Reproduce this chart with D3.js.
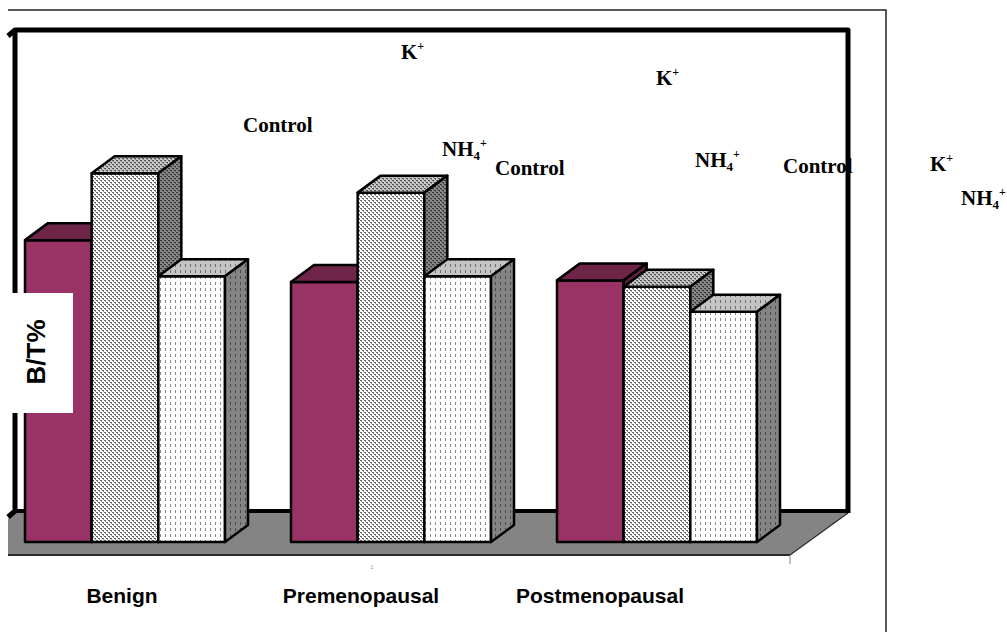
<!DOCTYPE html>
<html>
<head>
<meta charset="utf-8">
<script src="https://cdn.jsdelivr.net/npm/d3@7"></script>
<style>
  body { margin: 0; background: #fff; }
  svg { display: block; }
</style>
</head>
<body>
<svg id="chart" width="1007" height="632"></svg>
<script>
// ---- data -------------------------------------------------------------
const categories = ["Benign", "Premenopausal", "Postmenopausal"];
const seriesNames = ["Control", "K+", "NH4+"];
const controlValues = [37.5, 32.3, 32.5];
const potassiumValues = [45.8, 43.4, 31.7];
const ammoniumValues = [33.0, 33.0, 28.6];
const axisMax = 60;
const yTitle = "B/T%";

// ---- layout -----------------------------------------------------------
const svg = d3.select("#chart");
const DX = 23, DY = 17;            // 3D depth of each column
const baseY = 542;                 // front bottom of the columns
const wallShift = 29;              // columns stand this far in front of the back wall

const x0 = d3.scaleBand().domain(categories).range([25, 757])
  .paddingInner(66 / 266).paddingOuter(0);
const x1 = d3.scaleBand().domain(seriesNames).range([0, x0.bandwidth()]).padding(0);
const y = d3.scaleLinear().domain([0, axisMax]).range([baseY, baseY - 483]);

const series = [
  { name: "Control", values: controlValues, front: "#993366", top: "#6e2547", side: "#5c1f3d" },
  { name: "K+", values: potassiumValues, front: "url(#confFront)", top: "url(#confTop)", side: "url(#confSide)" },
  { name: "NH4+", values: ammoniumValues, front: "url(#dashFront)", top: "url(#dashTop)", side: "url(#dashSide)" }
];

// ---- fill patterns ----------------------------------------------------
const defs = svg.append("defs");
function confetti(id, bg, ink, ink2) {
  const p = defs.append("pattern").attr("id", id).attr("patternUnits", "userSpaceOnUse")
    .attr("width", 4).attr("height", 4);
  p.append("rect").attr("width", 4).attr("height", 4).attr("fill", bg);
  [[0, 0, 2, 1], [2, 2, 2, 1]].forEach(r =>
    p.append("rect").attr("x", r[0]).attr("y", r[1]).attr("width", r[2]).attr("height", r[3]).attr("fill", ink));
  [[1, 1, 1, 1], [3, 3, 1, 1]].forEach(r =>
    p.append("rect").attr("x", r[0]).attr("y", r[1]).attr("width", r[2]).attr("height", r[3]).attr("fill", ink2));
}
function dashes(id, bg, ink) {
  const p = defs.append("pattern").attr("id", id).attr("patternUnits", "userSpaceOnUse")
    .attr("width", 5).attr("height", 6);
  p.append("rect").attr("width", 5).attr("height", 6).attr("fill", bg);
  p.append("rect").attr("x", 0).attr("y", 0).attr("width", 1).attr("height", 3).attr("fill", ink);
}
confetti("confFront", "#ffffff", "#606060", "#9a9a9a");
confetti("confTop", "#c8c8c8", "#555555", "#858585");
confetti("confSide", "#888888", "#383838", "#5e5e5e");
dashes("dashFront", "#ffffff", "#888888");
dashes("dashTop", "#c4c4c4", "#707070");
dashes("dashSide", "#848484", "#4a4a4a");

// ---- outer frame --------------------------------------------------------
svg.append("path").attr("d", "M8,10 L886,10 L886,632")
  .attr("fill", "none").attr("stroke", "#222").attr("stroke-width", 1.5);

// ---- floor and back wall -------------------------------------------------
const wallTop = y(axisMax) - wallShift;
const floorBack = baseY - wallShift;
const floorFront = baseY + 13;
const wallLeft = 15, wallRight = 848;
const floorFrontRight = wallRight - 58;

svg.append("polygon")
  .attr("points", [[8, floorBack + 6], [wallLeft, floorBack], [wallRight, floorBack],
                   [floorFrontRight, floorFront], [8, floorFront]].join(" "))
  .attr("fill", "#848484").attr("stroke", "none");
svg.append("line").attr("x1", 8).attr("x2", floorFrontRight).attr("y1", floorFront).attr("y2", floorFront)
  .attr("stroke", "#2a2a2a").attr("stroke-width", 2);
svg.append("line").attr("x1", wallRight).attr("y1", floorBack).attr("x2", floorFrontRight).attr("y2", floorFront)
  .attr("stroke", "#2a2a2a").attr("stroke-width", 1.2);

svg.append("path")
  .attr("d", `M8,${wallTop + 6} L${wallLeft},${wallTop} L${wallRight},${wallTop} L${wallRight},${floorBack}`)
  .attr("fill", "none").attr("stroke", "#000").attr("stroke-width", 5).attr("stroke-linejoin", "round");
svg.append("path")
  .attr("d", `M${wallLeft},${wallTop} L${wallLeft},${floorBack - 2} L8,${floorBack + 4}`)
  .attr("fill", "none").attr("stroke", "#000").attr("stroke-width", 5);
svg.append("line").attr("x1", wallLeft).attr("x2", wallRight).attr("y1", floorBack - 2).attr("y2", floorBack - 2)
  .attr("stroke", "#000").attr("stroke-width", 4);

// ---- 3D columns --------------------------------------------------------------
const barsG = svg.append("g").attr("stroke", "#000").attr("stroke-width", 2.5).attr("stroke-linejoin", "round");
categories.forEach((cat, ci) => {
  series.forEach(s => {
    const bx = x0(cat) + x1(s.name);
    const w = x1.bandwidth();
    const yt = y(s.values[ci]);
    const yb = y(0);
    const g = barsG.append("g");
    g.append("rect").attr("x", bx).attr("y", yt).attr("width", w).attr("height", yb - yt).attr("fill", s.front);
    g.append("polygon")
      .attr("points", [[bx, yt], [bx + w, yt], [bx + w + DX, yt - DY], [bx + DX, yt - DY]].join(" "))
      .attr("fill", s.top);
    g.append("polygon")
      .attr("points", [[bx + w, yt], [bx + w + DX, yt - DY], [bx + w + DX, yb - DY], [bx + w, yb]].join(" "))
      .attr("fill", s.side);
  });
});

// ---- tick marks under the floor ------------------------------------------------
svg.append("line").attr("x1", floorFrontRight).attr("x2", floorFrontRight)
  .attr("y1", floorFront).attr("y2", floorFront + 9).attr("stroke", "#888").attr("stroke-width", 1);
svg.append("text").attr("x", 372).attr("y", 569).attr("font-size", 6).attr("fill", "#999")
  .attr("font-family", "Liberation Sans, Arial, sans-serif").attr("text-anchor", "middle").text("1");

// ---- category labels -------------------------------------------------------------
svg.append("g").selectAll("text").data(categories).join("text")
  .attr("x", (d, i) => x0(d) + x0.bandwidth() / 2 - 3 - 27 * i)
  .attr("y", 603)
  .attr("text-anchor", "middle")
  .attr("font-family", "Liberation Sans, Arial, sans-serif")
  .attr("font-weight", "bold").attr("font-size", 21)
  .attr("fill", "#000")
  .text(d => d);

// ---- y-axis title -----------------------------------------------------------------
svg.append("rect").attr("x", 0).attr("y", 293).attr("width", 73).attr("height", 120).attr("fill", "#fff");
svg.append("text")
  .attr("transform", "translate(45,352) rotate(-90)")
  .attr("text-anchor", "middle")
  .attr("font-family", "Liberation Sans, Arial, sans-serif")
  .attr("font-weight", "bold").attr("font-size", 26)
  .text(yTitle);

// ---- series labels (three copies, scattered over the plot) -------------------------
const labelSpots = [
  [{ x: 243, y: 132 }, { x: 401, y: 59 }, { x: 442, y: 156 }],
  [{ x: 495, y: 175 }, { x: 656, y: 85 }, { x: 695, y: 167 }],
  [{ x: 783, y: 173 }, { x: 930, y: 171 }, { x: 961, y: 205 }]
];
const labG = svg.append("g")
  .attr("font-family", "Liberation Serif, Times New Roman, serif")
  .attr("font-weight", "bold").attr("font-size", 21).attr("fill", "#000");
labelSpots.forEach(set => {
  set.forEach((pos, si) => {
    const name = seriesNames[si];
    const t = labG.append("text").attr("x", pos.x).attr("y", pos.y);
    if (name === "K+") {
      t.append("tspan").text("K");
      t.append("tspan").attr("font-size", 12).attr("dy", -9).text("+");
    } else if (name === "NH4+") {
      t.append("tspan").text("NH");
      t.append("tspan").attr("font-size", 13).attr("dy", 4).text("4");
      t.append("tspan").attr("font-size", 12).attr("dy", -13).text("+");
    } else {
      t.text(name);
    }
  });
});
</script>
</body>
</html>
